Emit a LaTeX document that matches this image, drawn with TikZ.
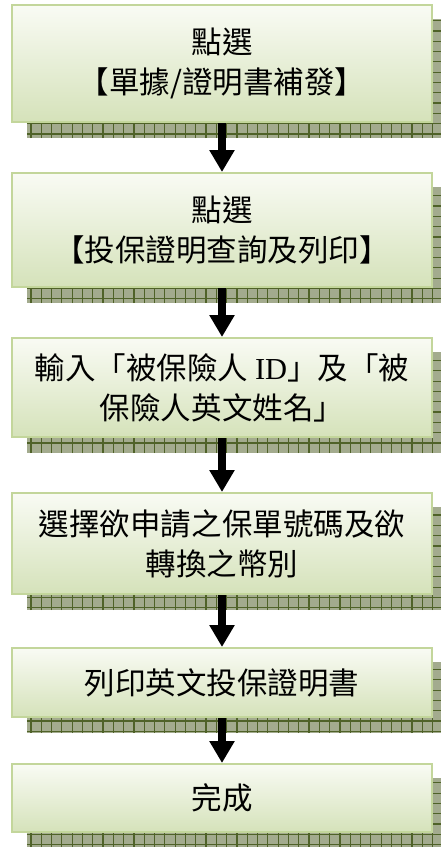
\documentclass[tikz,border=0pt]{standalone}
\usepackage{fontspec}
\newfontfamily\cjk{Noto Sans CJK TC}
\newfontfamily\idfont{Liberation Serif}
\usetikzlibrary{arrows.meta,backgrounds}
\definecolor{boxedge}{HTML}{C3D69B}
\definecolor{boxtop}{HTML}{F9FBF4}
\definecolor{boxbot}{HTML}{D5E2BA}
\definecolor{shfill}{HTML}{A3AB8E}
\definecolor{shline}{HTML}{4F6228}
\tikzset{
  stepbox/.style={draw=boxedge, line width=2bp, top color=boxtop, bottom color=boxbot,
    minimum width=420bp, inner sep=0pt, align=center, text=black,
    font=\cjk\fontsize{30.5bp}{40bp}\selectfont},
  flowarrow/.style={line width=8bp, -{Triangle[length=22bp,width=24bp]}},
  shadowfill/.style={fill=shfill},
  shadowgrid/.style={draw=shline, line width=1.2bp, step=10.3bp}
}
\begin{document}
\begin{tikzpicture}[x=1bp,y=-1bp]
\useasboundingbox (0,0) rectangle (441,847);
\node[stepbox, minimum height=117bp] (b1) at (222,63.5) {點選\\【單據/證明書補發】};
\node[stepbox, minimum height=114bp] (b2) at (222,230) {點選\\【投保證明查詢及列印】};
\node[stepbox, minimum height=99bp] (b3) at (222,387.5) {輸入「被保險人 {\idfont ID}」及「被\\保險人英文姓名」};
\node[stepbox, minimum height=101bp] (b4) at (222,543.5) {選擇欲申請之保單號碼及欲\\轉換之幣別};
\node[stepbox, minimum height=69bp] (b5) at (222,682.5) {列印英文投保證明書};
\node[stepbox, minimum height=68bp] (b6) at (222,798) {完成};
\begin{scope}[on background layer]
\foreach \n in {b1,b2,b3,b4,b5,b6}{
  \path ([shift={(16,15)}]\n.north west) coordinate (\n-snw)
        ([shift={(16,15)}]\n.south east) coordinate (\n-sse);
  \fill[shadowfill] (\n-snw) rectangle (\n-sse);
  \begin{scope}
    \clip (\n-snw) rectangle (\n-sse);
    \draw[shadowgrid] (\n-snw) grid (\n-sse);
  \end{scope}
}
\end{scope}
\draw[flowarrow] (b1.south) -- (b2.north);
\draw[flowarrow] (b2.south) -- (b3.north);
\draw[flowarrow] (b3.south) -- (b4.north);
\draw[flowarrow] (b4.south) -- (b5.north);
\draw[flowarrow] (b5.south) -- (b6.north);
\end{tikzpicture}
\end{document}
